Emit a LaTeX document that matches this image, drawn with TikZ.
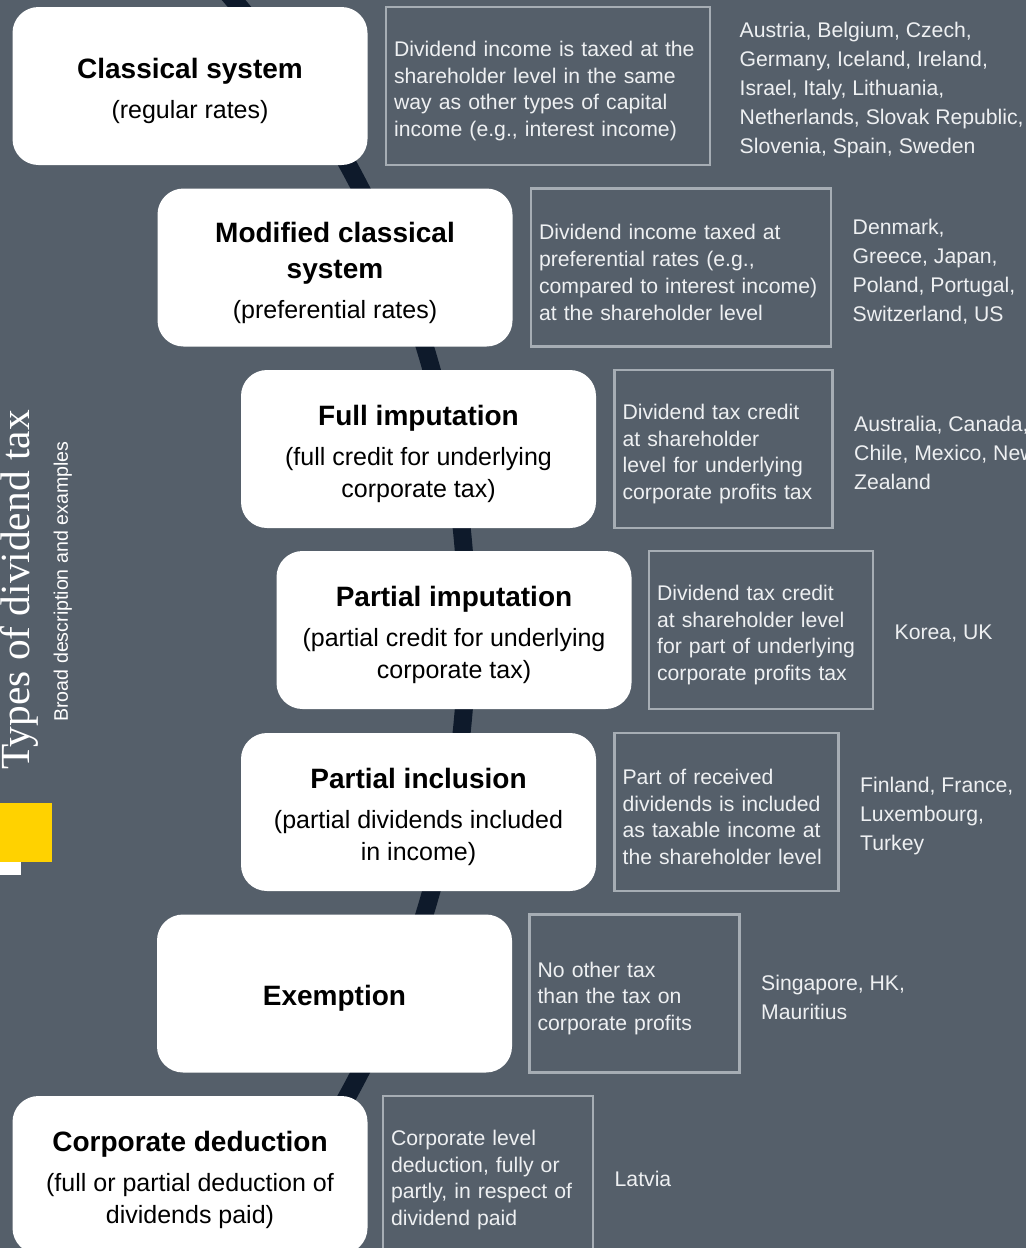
\documentclass[tikz,border=0pt]{standalone}
\usepackage{fontspec}
\setmainfont{Liberation Sans}
\newfontfamily\headserif{Liberation Serif}
\usepackage{tikz}
\usetikzlibrary{positioning}
\definecolor{EYSlate}{RGB}{85,95,106}
\definecolor{EYNavy}{RGB}{14,26,43}
\definecolor{EYYellow}{RGB}{255,210,0}
\definecolor{EYLine}{RGB}{166,173,180}
\definecolor{EYPale}{RGB}{238,240,242}
\newcommand{\systemname}[1]{{\bfseries\fontsize{14}{18}\selectfont #1}}
\newcommand{\lift}{\rule{0pt}{15.3pt}}

\begin{document}
\begin{tikzpicture}[x=0.5pt, y=-0.5pt]
  \tikzstyle{system} = [rectangle, fill=white, rounded corners=13pt, minimum width=177.5pt,
    minimum height=79pt, align=center, inner sep=0pt, text=black, font=\fontsize{12.5}{16}\selectfont]
  \tikzstyle{desc} = [rectangle, draw=EYLine, line width=1.2pt, minimum height=79pt,
    inner xsep=4pt, align=left, text=EYPale, font=\fontsize{10.6}{13.35}\selectfont,
    execute at begin node={\hyphenpenalty=10000\exhyphenpenalty=10000\rule{0pt}{12.6pt}}]
  \tikzstyle{where} = [anchor=west, inner sep=0pt, align=left, text=EYPale, yshift=-2pt,
    font=\fontsize{10.6}{14.5}\selectfont]
  \tikzstyle{spine} = [draw=EYNavy, line width=9pt]

  \useasboundingbox (0,0) rectangle (1026,1248);
  \fill[EYSlate] (0,0) rectangle (1026,1248);

  % the dark arc behind the boxes
  \coordinate (arccentre) at (-500,630);
  \draw[spine] (arccentre) circle (967);

  % systems
  \node[system] (classical) at (190,86) {\lift\systemname{Classical system}\\[4pt](regular rates)};
  \node[system] (modified) at (335,267.5) {\lift\systemname{Modified classical}\\[2pt]\systemname{system}\\[4pt](preferential rates)};
  \node[system] (fullimp) at (418.5,449) {\lift\systemname{Full imputation}\\[4pt](full credit for underlying\\corporate tax)};
  \node[system] (partimp) at (454,630) {\lift\systemname{Partial imputation}\\[4pt](partial credit for underlying\\corporate tax)};
  \node[system] (partinc) at (418.5,812) {\lift\systemname{Partial inclusion}\\[4pt](partial dividends included\\in income)};
  \node[system] (exempt) at (334.5,993.5) {\lift\systemname{Exemption}};
  \node[system] (corpded) at (190,1175) {\lift\systemname{Corporate deduction}\\[4pt](full or partial deduction of\\dividends paid)};

  % descriptions
  \node[desc, text width=154pt, right=8.5pt of classical] (classicaltxt) {Dividend income is taxed at the\\shareholder level in the same\\way as other types of capital\\income (e.g., interest income)};
  \node[desc, text width=142pt, right=8.5pt of modified] (modifiedtxt) {Dividend income taxed at\\preferential rates (e.g.,\\compared to interest income)\\at the shareholder level};
  \node[desc, text width=101pt, right=8.5pt of fullimp] (fullimptxt) {Dividend tax credit\\at shareholder\\level for underlying\\corporate profits tax};
  \node[desc, text width=104pt, right=8pt of partimp] (partimptxt) {Dividend tax credit\\at shareholder level\\for part of underlying\\corporate profits tax};
  \node[desc, text width=104pt, right=8.5pt of partinc] (partinctxt) {Part of received\\dividends is included\\as taxable income at\\the shareholder level};
  \node[desc, text width=97pt, right=8pt of exempt] (exempttxt) {No other tax\\than the tax on\\corporate profits};
  \node[desc, text width=97pt, right=7pt of corpded] (corpdedtxt) {Corporate level\\deduction, fully or\\partly, in respect of\\dividend paid};

  % countries
  \node[where, right=14pt of classicaltxt] (classicalctry) {Austria, Belgium, Czech,\\Germany, Iceland, Ireland,\\Israel, Italy, Lithuania,\\Netherlands, Slovak Republic,\\Slovenia, Spain, Sweden};
  \node[where, right=10pt of modifiedtxt] (modifiedctry) {Denmark,\\Greece, Japan,\\Poland, Portugal,\\Switzerland, US};
  \node[where, right=10pt of fullimptxt] (fullimpctry) {Australia, Canada,\\Chile, Mexico, New\\Zealand};
  \node[where, right=10pt of partimptxt] (partimpctry) {Korea, UK};
  \node[where, right=10pt of partinctxt] (partincctry) {Finland, France,\\Luxembourg,\\Turkey};
  \node[where, right=10pt of exempttxt] (exemptctry) {Singapore, HK,\\Mauritius};
  \node[where, right=10pt of corpdedtxt] (corpdedctry) {Latvia};

  % heading on the left
  \fill[EYYellow] (0,803) rectangle (52,862);
  \fill[white] (0,862) rectangle (21,875);
  \node[rotate=90, anchor=base west, inner sep=0pt, text=white,
    font=\headserif\fontsize{20.7}{24}\selectfont] (heading) at (29,770) {Types of dividend tax};
  \node[rotate=90, anchor=base west, inner sep=0pt, text=white,
    font=\fontsize{9.8}{12}\selectfont] (subheading) at (68,722) {Broad description and examples};
\end{tikzpicture}
\end{document}
